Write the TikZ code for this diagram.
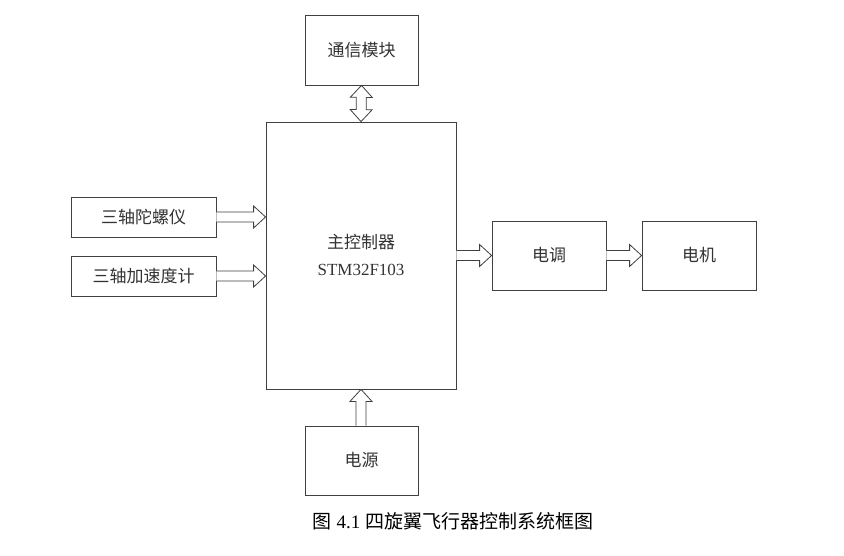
\documentclass[tikz,border=0pt]{standalone}
\usepackage{fontspec}
\setmainfont{Liberation Serif}
\newfontfamily\cjk{Noto Sans CJK SC}
\usetikzlibrary{calc}
\tikzset{box/.style={draw=black!75,line width=0.8pt,inner sep=0pt,font=\cjk\fontsize{17}{20}\selectfont,text=black!80},
 ha/.style={draw=black!75,line width=0.8pt,fill=white}}
\newcommand\harrow[2]{%
 \draw[ha] ($(#1)!5pt!90:(#2)$) -- ($($(#2)!12pt!(#1)$)!5pt!90:(#2)$) -- ($($(#2)!12pt!(#1)$)!11pt!90:(#2)$) -- (#2)
 -- ($($(#2)!12pt!(#1)$)!11pt!-90:(#2)$) -- ($($(#2)!12pt!(#1)$)!5pt!-90:(#2)$) -- ($(#1)!5pt!-90:(#2)$);}
\newcommand\dharrow[2]{%
 \draw[ha] (#1) -- ($($(#1)!12pt!(#2)$)!11pt!90:(#2)$) -- ($($(#1)!12pt!(#2)$)!5pt!90:(#2)$)
 -- ($($(#2)!12pt!(#1)$)!5pt!90:(#2)$) -- ($($(#2)!12pt!(#1)$)!11pt!90:(#2)$) -- (#2)
 -- ($($(#2)!12pt!(#1)$)!11pt!-90:(#2)$) -- ($($(#2)!12pt!(#1)$)!5pt!-90:(#2)$)
 -- ($($(#1)!12pt!(#2)$)!5pt!-90:(#2)$) -- ($($(#1)!12pt!(#2)$)!11pt!-90:(#2)$) -- cycle;}
\begin{document}
\begin{tikzpicture}[x=1pt,y=-1pt]
\useasboundingbox[fill=white] (0,0) rectangle (844,556);
\node[box,minimum width=113pt,minimum height=70pt] (comm) at (361.5,50) {通信模块};
\node[box,minimum width=190pt,minimum height=267pt,align=center] (mcu) at (361,255.5) {};
\node[font=\cjk\fontsize{17}{20}\selectfont,text=black!80] (t1) at (361,242) {主控制器};
\node[font=\fontsize{17}{20}\selectfont,text=black!80] (t2) at (361,270) {STM32F103};
\node[box,minimum width=145pt,minimum height=40pt] (gyro) at (143.5,217) {三轴陀螺仪};
\node[box,minimum width=145pt,minimum height=40pt] (acc) at (143.5,276) {三轴加速度计};
\node[box,minimum width=114pt,minimum height=69pt] (esc) at (549,255.5) {电调};
\node[box,minimum width=114pt,minimum height=69pt] (mot) at (699,255.5) {电机};
\node[box,minimum width=113pt,minimum height=69pt] (pwr) at (361.5,460.5) {电源};
\node[font=\fontsize{19}{22}\selectfont] (cap) at (453,521) {{\cjk 图} 4.1 {\cjk 四旋翼飞行器控制系统框图}};
\coordinate (g1) at (gyro.east); \coordinate (g2) at (mcu.west|-gyro.east);
\coordinate (a1) at (acc.east); \coordinate (a2) at (mcu.west|-acc.east);
\coordinate (m1) at (mcu.east|-esc.west);
\coordinate (p1) at (mcu.south|-pwr.north);
\harrow{g1}{g2}
\harrow{a1}{a2}
\harrow{m1}{esc.west}
\harrow{esc.east}{mot.west}
\harrow{p1}{mcu.south}
\dharrow{comm.south}{mcu.north}
\end{tikzpicture}
\end{document}
